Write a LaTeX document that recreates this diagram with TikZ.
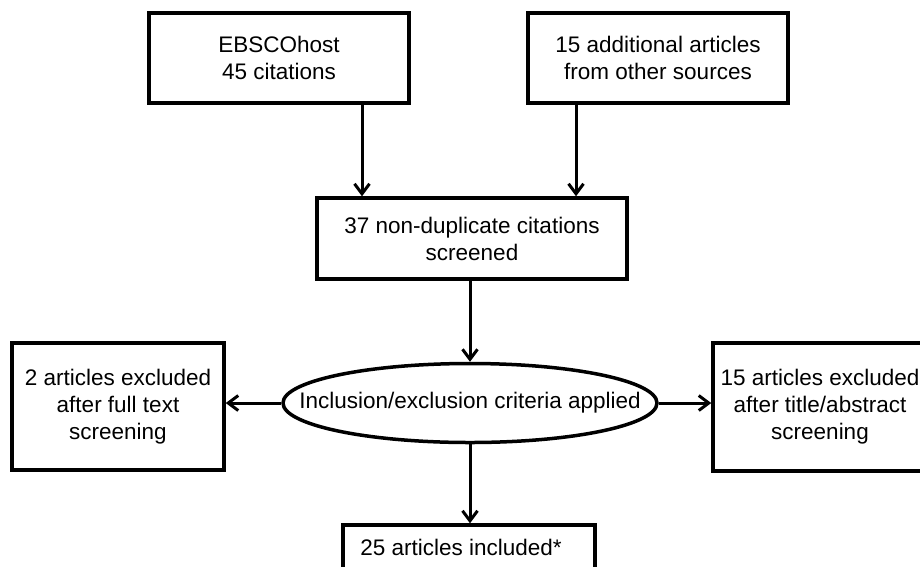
\documentclass[tikz,border=0pt]{standalone}
\usepackage{fontspec}
\setmainfont{Liberation Sans}
\usetikzlibrary{shapes.geometric,arrows.meta}
\begin{document}
\begin{tikzpicture}[x=1pt,y=-1pt,
  every node/.style={font=\fontsize{22.5}{27}\selectfont, align=center, inner sep=0pt},
  boxnode/.style={draw, line width=3.5pt, rectangle},
  ellnode/.style={draw, line width=3.5pt, ellipse},
  arr/.style={line width=3pt, -{Straight Barb[length=10pt,width=15pt,line width=3pt]}}]
\useasboundingbox (0,0) rectangle (920,566);
\clip (0,0) rectangle (920,566);
\fill[white] (0,0) rectangle (920,566);
\node[boxnode, minimum width=260, minimum height=90] (ebsco) at (279,58) {EBSCOhost\\45 citations};
\node[boxnode, minimum width=260, minimum height=90] (other) at (658,58) {15 additional articles\\from other sources};
\node[boxnode, minimum width=310, minimum height=81] (dup) at (472,238.5) {37 non-duplicate citations\\screened};
\node[ellnode, minimum width=374, minimum height=79] (crit) at (470,403) {};
\node (crittext) at (470,403) {Inclusion/exclusion criteria applied};
\node[boxnode, minimum width=212, minimum height=127] (left) at (118,406.5) {2 articles excluded\\after full text\\screening};
\node[boxnode, minimum width=214, minimum height=128] (right) at (820,407) {15 articles excluded\\after title/abstract\\screening};
\node[boxnode, minimum width=252, minimum height=54] (incl) at (469,552) {};
\node (incltext) at (461,547) {25 articles included*};
\coordinate (ca) at (362,0);
\coordinate (cb) at (576,0);
\draw[arr] (ebsco.south -| ca) -- (dup.north -| ca);
\draw[arr] (other.south -| cb) -- (dup.north -| cb);
\draw[arr] (crit.north |- dup.south) -- (crit.north);
\draw[arr] (crit.west) -- (crit.west -| left.east);
\draw[arr] (crit.east) -- (crit.east -| right.west);
\draw[arr] (crit.south) -- (crit.south |- incl.north);
\end{tikzpicture}
\end{document}
